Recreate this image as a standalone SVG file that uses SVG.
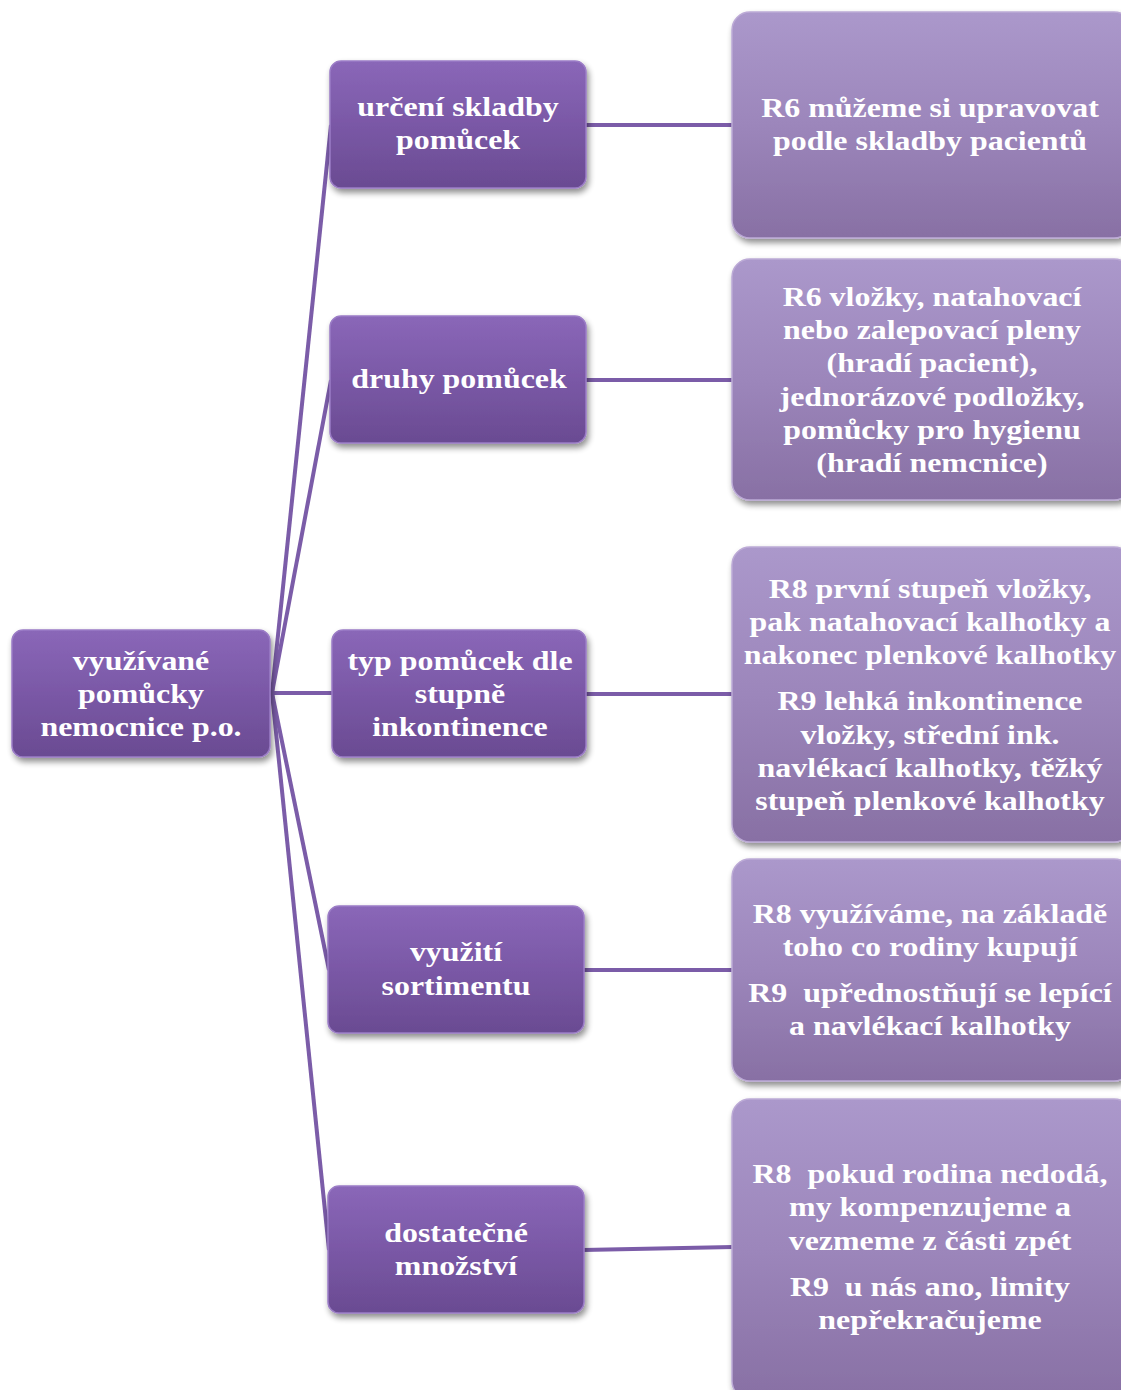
<svg xmlns="http://www.w3.org/2000/svg" width="1121" height="1390" viewBox="0 0 1121 1390">
  <defs>
    <linearGradient id="gDark" x1="0" y1="0" x2="0" y2="1">
      <stop offset="0" stop-color="#8a67b8"/>
      <stop offset="0.5" stop-color="#7a58a6"/>
      <stop offset="1" stop-color="#6a4b92"/>
    </linearGradient>
    <linearGradient id="gLight" x1="0" y1="0" x2="0" y2="1">
      <stop offset="0" stop-color="#ab98cb"/>
      <stop offset="0.5" stop-color="#9c86bb"/>
      <stop offset="1" stop-color="#8870a4"/>
    </linearGradient>
    <filter id="shadow" x="-10%" y="-10%" width="125%" height="130%">
      <feGaussianBlur in="SourceAlpha" stdDeviation="3"/>
      <feOffset dx="2" dy="4" result="b"/>
      <feComponentTransfer><feFuncA type="linear" slope="0.45"/></feComponentTransfer>
      <feMerge><feMergeNode/><feMergeNode in="SourceGraphic"/></feMerge>
    </filter>
  </defs>
  <style>
    .dark { fill: url(#gDark); stroke: #9b7cc6; stroke-width: 1.5; filter: url(#shadow); }
    .light { fill: url(#gLight); stroke: #bcaad6; stroke-width: 1.5; filter: url(#shadow); }
    .lbl { font-family: "Liberation Serif", "Times New Roman", serif; font-weight: bold; font-size: 28px; fill: #ffffff; text-anchor: middle; }
    .con { stroke: #7b5ca8; stroke-width: 4; fill: none; }
  </style>

  <rect width="1121" height="1390" fill="#ffffff"/>

  <!-- connectors -->
  <g id="connectors">
    <line class="con" x1="272" y1="693" x2="331" y2="125"/>
    <line class="con" x1="272" y1="693" x2="331" y2="380"/>
    <line class="con" x1="270" y1="693" x2="333" y2="693"/>
    <line class="con" x1="272" y1="693" x2="329" y2="970"/>
    <line class="con" x1="272" y1="693" x2="329" y2="1250"/>
    <line class="con" x1="585" y1="125" x2="733" y2="125"/>
    <line class="con" x1="585" y1="380" x2="733" y2="380"/>
    <line class="con" x1="585" y1="694" x2="733" y2="694"/>
    <line class="con" x1="583" y1="970" x2="733" y2="970"/>
    <line class="con" x1="583" y1="1250" x2="733" y2="1247"/>
  </g>

  <!-- root -->
  <g id="root">
    <rect class="dark" x="12" y="630" width="258" height="127" rx="11"/>
    <g transform="translate(141 0) scale(1.14 1)">
      <text class="lbl" x="0" y="670">využívané</text>
      <text class="lbl" x="0" y="703">pomůcky</text>
      <text class="lbl" x="0" y="736">nemocnice p.o.</text>
    </g>
  </g>

  <!-- second level -->
  <g id="n-skladba">
    <rect class="dark" x="330" y="61" width="256" height="127" rx="11"/>
    <g transform="translate(458 0) scale(1.14 1)">
      <text class="lbl" x="0" y="116">určení skladby</text>
      <text class="lbl" x="0" y="149">pomůcek</text>
    </g>
  </g>
  <g id="n-druhy">
    <rect class="dark" x="330" y="316" width="256" height="127" rx="11"/>
    <g transform="translate(459 0) scale(1.14 1)">
      <text class="lbl" x="0" y="388">druhy pomůcek</text>
    </g>
  </g>
  <g id="n-typ">
    <rect class="dark" x="332" y="630" width="254" height="127" rx="11"/>
    <g transform="translate(460 0) scale(1.14 1)">
      <text class="lbl" x="0" y="670">typ pomůcek dle</text>
      <text class="lbl" x="0" y="703">stupně</text>
      <text class="lbl" x="0" y="736">inkontinence</text>
    </g>
  </g>
  <g id="n-sortiment">
    <rect class="dark" x="328" y="906" width="256" height="127" rx="11"/>
    <g transform="translate(456 0) scale(1.14 1)">
      <text class="lbl" x="0" y="961">využití</text>
      <text class="lbl" x="0" y="995">sortimentu</text>
    </g>
  </g>
  <g id="n-mnozstvi">
    <rect class="dark" x="328" y="1186" width="256" height="127" rx="11"/>
    <g transform="translate(456 0) scale(1.14 1)">
      <text class="lbl" x="0" y="1242">dostatečné</text>
      <text class="lbl" x="0" y="1275">množství</text>
    </g>
  </g>

  <!-- third level -->
  <g id="d-skladba">
    <rect class="light" x="732" y="12" width="400" height="226" rx="18"/>
    <g transform="translate(930 0) scale(1.14 1)">
      <text class="lbl" x="0" y="117">R6 můžeme si upravovat</text>
      <text class="lbl" x="0" y="150">podle skladby pacientů</text>
    </g>
  </g>
  <g id="d-druhy">
    <rect class="light" x="732" y="259" width="400" height="241" rx="18"/>
    <g transform="translate(932 0) scale(1.14 1)">
      <text class="lbl" x="0" y="306">R6 vložky, natahovací</text>
      <text class="lbl" x="0" y="339">nebo zalepovací pleny</text>
      <text class="lbl" x="0" y="372">(hradí pacient),</text>
      <text class="lbl" x="0" y="406">jednorázové podložky,</text>
      <text class="lbl" x="0" y="439">pomůcky pro hygienu</text>
      <text class="lbl" x="0" y="472">(hradí nemcnice)</text>
    </g>
  </g>
  <g id="d-typ">
    <rect class="light" x="732" y="547" width="400" height="295" rx="18"/>
    <g transform="translate(930 0) scale(1.14 1)">
      <text class="lbl" x="0" y="598">R8 první stupeň vložky,</text>
      <text class="lbl" x="0" y="631">pak natahovací kalhotky a</text>
      <text class="lbl" x="0" y="664">nakonec plenkové kalhotky</text>
      <text class="lbl" x="0" y="710">R9 lehká inkontinence</text>
      <text class="lbl" x="0" y="744">vložky, střední ink.</text>
      <text class="lbl" x="0" y="777">navlékací kalhotky, těžký</text>
      <text class="lbl" x="0" y="810">stupeň plenkové kalhotky</text>
    </g>
  </g>
  <g id="d-sortiment">
    <rect class="light" x="732" y="859" width="400" height="222" rx="18"/>
    <g transform="translate(930 0) scale(1.14 1)">
      <text class="lbl" x="0" y="923">R8 využíváme, na základě</text>
      <text class="lbl" x="0" y="956">toho co rodiny kupují</text>
      <text class="lbl" x="0" y="1002" xml:space="preserve">R9  upřednostňují se lepící</text>
      <text class="lbl" x="0" y="1035">a navlékací kalhotky</text>
    </g>
  </g>
  <g id="d-mnozstvi">
    <rect class="light" x="732" y="1099" width="400" height="300" rx="18"/>
    <g transform="translate(930 0) scale(1.14 1)">
      <text class="lbl" x="0" y="1183" xml:space="preserve">R8  pokud rodina nedodá,</text>
      <text class="lbl" x="0" y="1216">my kompenzujeme a</text>
      <text class="lbl" x="0" y="1250">vezmeme z části zpét</text>
      <text class="lbl" x="0" y="1296" xml:space="preserve">R9  u nás ano, limity</text>
      <text class="lbl" x="0" y="1329">nepřekračujeme</text>
    </g>
  </g>
</svg>
